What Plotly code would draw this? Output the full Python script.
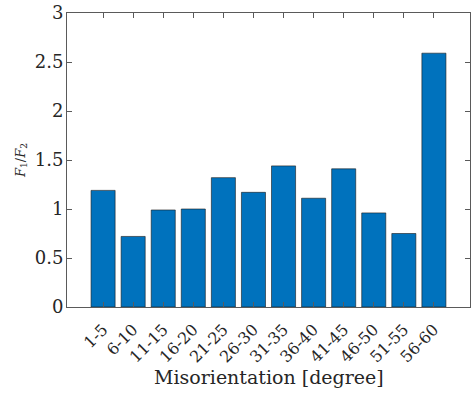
import plotly.graph_objects as go

categories = ["1-5", "6-10", "11-15", "16-20", "21-25", "26-30",
              "31-35", "36-40", "41-45", "46-50", "51-55", "56-60"]
ratio = [1.19, 0.72, 0.99, 1.00, 1.32, 1.17, 1.44, 1.11, 1.41, 0.96, 0.75, 2.59]
y_ticks = [0, 0.5, 1, 1.5, 2, 2.5, 3]
x_title = "Misorientation [degree]"

fig = go.Figure(go.Bar(
    x=categories, y=ratio, width=0.8,
    marker=dict(color="#0072BD", line=dict(color="#1a1a1a", width=0.6)),
))

font = "DejaVu Serif"
axcol = "#262626"
fig.update_layout(
    width=473, height=394,
    margin=dict(l=67, r=2, t=8, b=87),
    plot_bgcolor="white", paper_bgcolor="white",
    showlegend=False,
    font=dict(family=font, color=axcol),
    xaxis=dict(
        range=[-1.2, 12.2], showline=True, linecolor="#5a5a5a", linewidth=1,
        mirror="ticks", ticks="inside", ticklen=5, tickcolor="#5a5a5a",
        tickangle=-45, tickfont=dict(size=16, family=font), ticklabelstandoff=6,
        showgrid=False, zeroline=False,
    ),
    yaxis=dict(
        range=[0, 3], tickvals=y_ticks, showline=True, linecolor="#5a5a5a", linewidth=1,
        mirror="ticks", ticks="inside", ticklen=5, tickcolor="#5a5a5a",
        tickfont=dict(size=18, family=font), ticklabeloverflow="allow",
        ticklabelstandoff=-1,
        title=dict(text="<i>F</i><sub>1</sub>/<i>F</i><sub>2</sub>", font=dict(size=13, family=font), standoff=6),
        showgrid=False, zeroline=False,
    ),
    annotations=[dict(
        text=x_title, xref="paper", yref="paper", x=0.5, y=-0.237,
        xanchor="center", yanchor="middle", showarrow=False,
        font=dict(size=19, family=font, color=axcol),
    )],
)

fig.write_html("out.html")
